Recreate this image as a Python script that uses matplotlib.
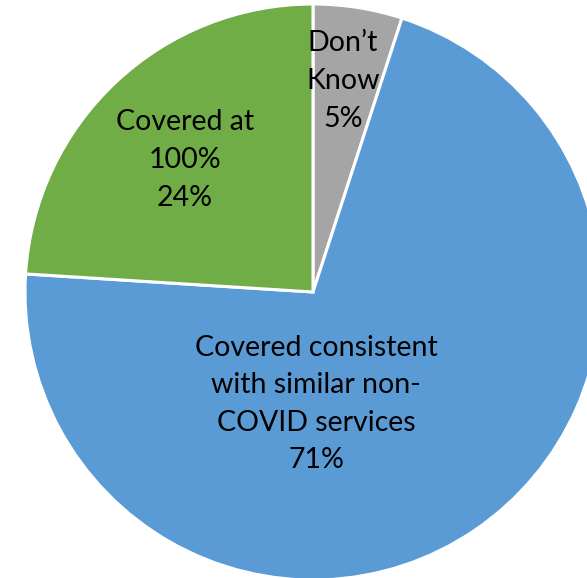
import matplotlib.pyplot as plt

labels = ["Don\u2019t\nKnow", "Covered consistent\nwith similar non-\nCOVID services", "Covered at\n100%"]
shares = [5, 71, 24]
colors = ["#A5A5A5", "#5B9BD5", "#70AD47"]

# label anchor points in figure pixels (x, y measured from top)
label_xy = [(343, 81), (316, 404), (185, 160)]

W, H = 587, 578
fig = plt.figure(figsize=(W / 100, H / 100), dpi=100)
ax = fig.add_axes([0, 0, 1, 1])

cx, cy, r = 313, 292, 288
ax.pie(
    shares,
    colors=colors,
    startangle=90,
    counterclock=False,
    center=(cx, H - cy),
    radius=r,
    wedgeprops=dict(edgecolor="white", linewidth=2.2),
    frame=True,
)
ax.set_xlim(0, W)
ax.set_ylim(0, H)
ax.set_aspect("equal")
ax.axis("off")

for lab, val, (x, y) in zip(labels, shares, label_xy):
    ax.text(x, H - y, f"{lab}\n{val}%", ha="center", va="center",
            fontsize=20.5, family="Lato", linespacing=1.55, color="black")

fig.savefig("out.png", dpi=100)
